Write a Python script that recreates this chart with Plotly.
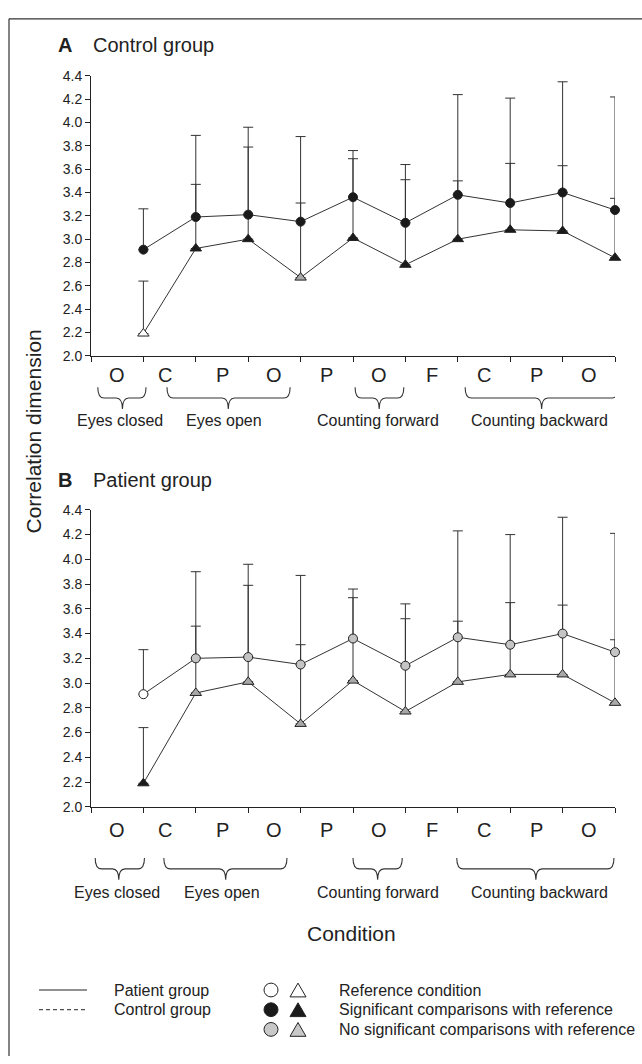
import plotly.graph_objects as go

W, H = 642, 1064

# ---------------- data ----------------
conditions = ["O", "C", "P", "O", "P", "O", "F", "C", "P", "O"]
x_pos = [1, 2, 3, 4, 5, 6, 7, 8, 9, 10]
group_names = ["Eyes closed", "Eyes open", "Counting forward", "Counting backward"]
y_ticks = [2.0, 2.2, 2.4, 2.6, 2.8, 3.0, 3.2, 3.4, 3.6, 3.8, 4.0, 4.2, 4.4]

# Panel A: control group
ctrl_circle_mean = [2.91, 3.19, 3.21, 3.15, 3.36, 3.14, 3.38, 3.31, 3.40, 3.25]
ctrl_circle_top = [3.26, 3.89, 3.96, 3.88, 3.76, 3.64, 4.24, 4.21, 4.35, 4.22]
ctrl_tri_mean = [2.19, 2.92, 3.00, 2.67, 3.01, 2.78, 3.00, 3.08, 3.07, 2.84]
ctrl_tri_top = [2.64, 3.47, 3.79, 3.31, 3.69, 3.51, 3.50, 3.65, 3.63, 3.35]
ctrl_circle_status = ["sig"] * 10
ctrl_tri_status = ["ref", "sig", "sig", "ns", "sig", "sig", "sig", "sig", "sig", "sig"]

# Panel B: patient group
pat_circle_mean = [2.91, 3.20, 3.21, 3.15, 3.36, 3.14, 3.37, 3.31, 3.40, 3.25]
pat_circle_top = [3.27, 3.90, 3.96, 3.87, 3.76, 3.64, 4.23, 4.20, 4.34, 4.21]
pat_tri_mean = [2.19, 2.92, 3.01, 2.67, 3.02, 2.77, 3.01, 3.07, 3.07, 2.84]
pat_tri_top = [2.64, 3.46, 3.79, 3.31, 3.69, 3.52, 3.50, 3.65, 3.63, 3.35]
pat_circle_status = ["ref"] + ["ns"] * 9
pat_tri_status = ["sig"] + ["ns"] * 9

legend_line_labels = ["Patient group", "Control group"]
legend_marker_labels = ["Reference condition",
                        "Significant comparisons with reference",
                        "No significant comparisons with reference"]

# ---------------- styling ----------------
FONT = "Liberation Sans, Arial, sans-serif"
INK = "#222222"
CIRCLE_FILL = {"ref": "white", "sig": "#1a1a1a", "ns": "#c4c4c4"}
TRI_FILL = {"ref": "white", "sig": "#1a1a1a", "ns": "#a8a8a8"}


def px(x):
    return x / W


def py(y):
    return 1 - y / H


fig = go.Figure()


def add_series(mean, top, status, symbol, fills, size, xa, ya):
    fig.add_trace(go.Scatter(
        x=x_pos, y=mean, mode="lines+markers", xaxis=xa, yaxis=ya,
        line=dict(color="#333333", width=1),
        marker=dict(symbol=symbol, size=size, color=[fills[s] for s in status],
                    line=dict(color=INK, width=1)),
        error_y=dict(type="data", symmetric=False,
                     array=[t - m for t, m in zip(top, mean)],
                     arrayminus=[0] * len(mean),
                     color="#333333", thickness=1, width=5),
        cliponaxis=False, showlegend=False, hoverinfo="skip"))


# triangles first, circles on top
add_series(ctrl_tri_mean, ctrl_tri_top, ctrl_tri_status, "triangle-up", TRI_FILL, 10, "x", "y")
add_series(ctrl_circle_mean, ctrl_circle_top, ctrl_circle_status, "circle", CIRCLE_FILL, 9, "x", "y")
add_series(pat_tri_mean, pat_tri_top, pat_tri_status, "triangle-up", TRI_FILL, 10, "x2", "y2")
add_series(pat_circle_mean, pat_circle_top, pat_circle_status, "circle", CIRCLE_FILL, 9, "x2", "y2")

X_DOM = [px(91), px(615)]
PANELS = {
    "A": dict(top=69, bottom=353),
    "B": dict(top=509.5, bottom=811),
}

xaxis_common = dict(range=[0, 10], tickvals=list(range(0, 11)), showticklabels=False,
                    ticks="outside", ticklen=5, tickwidth=1, tickcolor=INK,
                    showline=True, linecolor=INK, linewidth=1,
                    showgrid=False, zeroline=False, domain=X_DOM, fixedrange=True)
yaxis_common = dict(range=[2.0, 4.4], tickvals=y_ticks,
                    ticktext=["%.1f" % v for v in y_ticks],
                    ticks="outside", ticklen=5, tickwidth=1, tickcolor=INK,
                    tickfont=dict(family=FONT, size=14, color=INK),
                    showline=True, linecolor=INK, linewidth=1,
                    showgrid=False, zeroline=False, fixedrange=True)

fig.update_layout(
    width=W, height=H, autosize=False,
    margin=dict(l=0, r=0, t=0, b=0),
    paper_bgcolor="white", plot_bgcolor="white",
    font=dict(family=FONT, color=INK),
    xaxis=dict(xaxis_common, anchor="y"),
    yaxis=dict(yaxis_common, anchor="x",
               domain=[py(PANELS["A"]["bottom"]), py(PANELS["A"]["top"])]),
    xaxis2=dict(xaxis_common, anchor="y2"),
    yaxis2=dict(yaxis_common, anchor="x2",
                domain=[py(PANELS["B"]["bottom"]), py(PANELS["B"]["top"])]),
)

ann = []
shapes = []

# frame
shapes.append(dict(type="line", xref="paper", yref="paper", x0=px(9), x1=1.0,
                   y0=py(11), y1=py(11), line=dict(color="#333333", width=1.2)))
shapes.append(dict(type="line", xref="paper", yref="paper", x0=px(9), x1=px(9),
                   y0=py(11), y1=0.0, line=dict(color="#333333", width=1.2)))

# panel titles
for letter, name, yc in [("A", "Control group", 38), ("B", "Patient group", 479)]:
    ann.append(dict(text="<b>%s</b>" % letter, xref="paper", yref="paper", x=px(56), y=py(yc),
                    xanchor="left", yanchor="middle", showarrow=False,
                    font=dict(family=FONT, size=20, color=INK)))
    ann.append(dict(text=name, xref="paper", yref="paper", x=px(91), y=py(yc),
                    xanchor="left", yanchor="middle", showarrow=False,
                    font=dict(family=FONT, size=20, color=INK)))

# condition letters, braces, group labels
panel_geom = {
    "x": dict(letter_y=373, brace_top=385, brace_mid=396, brace_tip=407, label_y=419,
              braces=[(0.13, 1.05, 0.6), (1.45, 3.8, 2.62), (5.04, 5.97, 5.5), (7.14, 10.06, 8.6)],
              label_x=[0.55, 2.54, 5.48, 8.56]),
    "x2": dict(letter_y=835, brace_top=863, brace_mid=874, brace_tip=885, label_y=898,
               braces=[(0.08, 1.02, 0.53), (1.39, 3.74, 2.57), (5.0, 5.94, 5.47), (6.98, 9.98, 8.49)],
               label_x=[0.5, 2.5, 5.47, 8.56]),
}
letter_x = [i + 0.5 for i in range(len(conditions))]
letter_x[1] = 1.42
for xr, g in panel_geom.items():
    for lx, lab in zip(letter_x, conditions):
        ann.append(dict(text=lab, xref=xr, yref="paper", x=lx, y=py(g["letter_y"]),
                        xanchor="center", yanchor="middle", showarrow=False,
                        font=dict(family=FONT, size=20, color=INK)))
    t, m, b = py(g["brace_top"]), py(g["brace_mid"]), py(g["brace_tip"])
    for (x0, x1, xt) in g["braces"]:
        d = 0.12
        path = ("M {a},{t} Q {a},{m} {a2},{m} L {t1},{m} Q {xt},{m} {xt},{b} "
                "Q {xt},{m} {t2},{m} L {b1},{m} Q {bb},{m} {bb},{t}").format(
            a=x0, t=t, m=m, a2=x0 + d, t1=xt - d, xt=xt, b=b, t2=xt + d, b1=x1 - d, bb=x1)
        shapes.append(dict(type="path", xref=xr, yref="paper", path=path,
                           line=dict(color="#333333", width=1.1)))
    for lx, name in zip(g["label_x"], group_names):
        ann.append(dict(text=name, xref=xr, yref="paper", x=lx, y=py(g["label_y"]),
                        xanchor="center", yanchor="middle", showarrow=False,
                        font=dict(family=FONT, size=16, color=INK)))

# shared axis titles
ann.append(dict(text="Correlation dimension", xref="paper", yref="paper", x=px(34), y=py(430),
                xanchor="center", yanchor="middle", textangle=-90, showarrow=False,
                font=dict(family=FONT, size=21, color=INK)))
ann.append(dict(text="Condition", xref="paper", yref="paper", x=px(352), y=py(940),
                xanchor="center", yanchor="middle", showarrow=False,
                font=dict(family=FONT, size=21, color=INK)))

# legend
rows = [997, 1017, 1037]
for i, lab in enumerate(legend_line_labels):
    shapes.append(dict(type="line", xref="paper", yref="paper", x0=px(39), x1=px(87),
                       y0=py(rows[i]), y1=py(rows[i]),
                       line=dict(color=INK, width=1, dash="solid" if i == 0 else "4px,3px")))
    ann.append(dict(text=lab, xref="paper", yref="paper", x=px(112), y=py(rows[i]),
                    xanchor="left", yanchor="middle", showarrow=False,
                    font=dict(family=FONT, size=16, color=INK)))
legend_fills = [("white", "white"), ("#1a1a1a", "#1a1a1a"), ("#c8c8c8", "#c8c8c8")]
for i, lab in enumerate(legend_marker_labels):
    yc = rows[i]
    cf, tf = legend_fills[i]
    r = 7
    shapes.append(dict(type="circle", xref="paper", yref="paper",
                       x0=px(271 - r), x1=px(271 + r), y0=py(yc + r), y1=py(yc - r),
                       fillcolor=cf, line=dict(color=INK, width=1)))
    tx, hw = 298, 8
    path = "M {l},{b} L {rr},{b} L {c},{t} Z".format(l=px(tx - hw), rr=px(tx + hw), c=px(tx),
                                                     b=py(yc + 7), t=py(yc - 7))
    shapes.append(dict(type="path", xref="paper", yref="paper", path=path,
                       fillcolor=tf, line=dict(color=INK, width=1)))
    ann.append(dict(text=lab, xref="paper", yref="paper", x=px(337), y=py(yc),
                    xanchor="left", yanchor="middle", showarrow=False,
                    font=dict(family=FONT, size=16, color=INK)))

fig.update_layout(annotations=ann, shapes=shapes)

fig.write_html("out.html", config={"displayModeBar": False},
               post_script="document.body.style.margin='0px';")
